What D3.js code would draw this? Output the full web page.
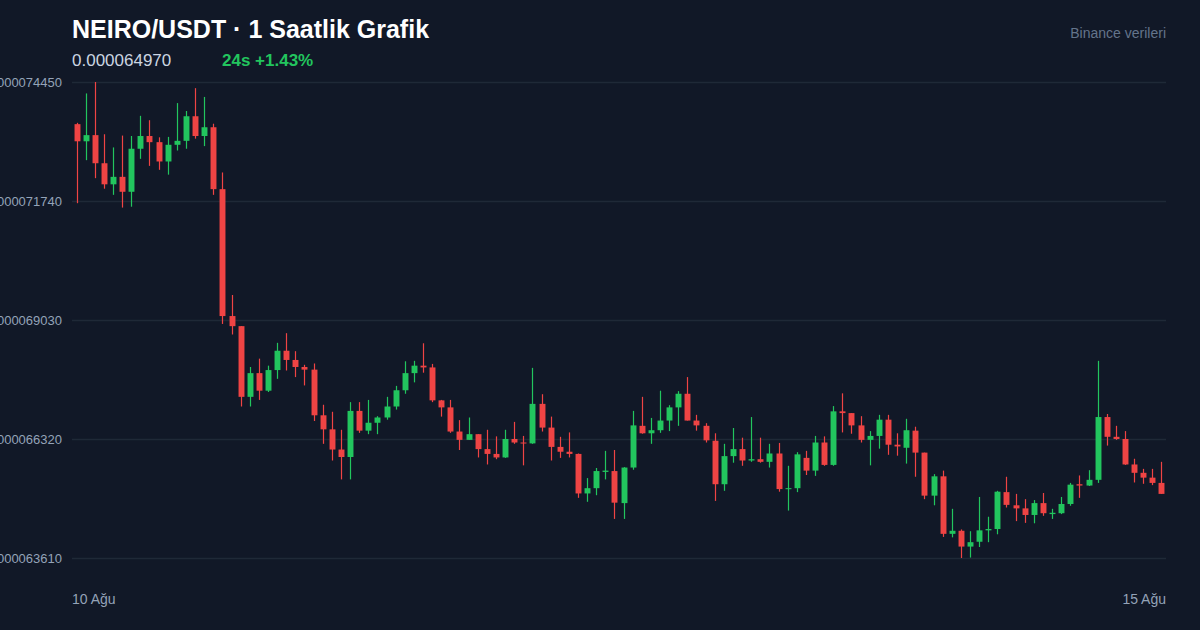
<!DOCTYPE html>
<html><head><meta charset="utf-8">
<script src="https://cdn.jsdelivr.net/npm/d3@7/dist/d3.min.js"></script>
<style>
html,body{margin:0;padding:0;background:#111827;}
svg{display:block;font-family:"Liberation Sans",Arial,Helvetica,sans-serif;}
</style></head>
<body><svg id="chart" width="1200" height="630"></svg>
<script>
// Prices in units of 1e-9 USDT (hourly candles, 10 Ağu -> 15 Ağu)
const PRICE_UNIT = 1e-9;
const open  = [73490,73100,73240,72600,72120,72290,71950,72930,73220,73080,72640,73020,73110,73670,73220,73420,72010,69120,68890,67280,
               67820,67420,67890,68330,68120,67960,67900,66860,66540,66080,65910,66960,66510,66690,66810,67060,67430,67820,67990,67950,
               67200,67040,66490,66300,66430,66090,65980,65900,66320,66240,66220,67120,66580,66140,66030,65980,65080,65200,65570,65590,
               64860,65670,66620,66450,66520,66740,67040,67350,66740,66620,66280,65290,65930,66090,65830,65860,65800,65990,65180,65200,
               65890,65600,66240,65730,66950,66910,66630,66300,66390,66760,66190,66120,66510,66010,65030,65470,64160,64230,63870,63980,
               64240,64270,65110,64810,64740,64590,64860,64610,64630,64840,65290,65260,65390,66820,66370,66320,65740,65550,65440,65320];
const high  = [73520,74190,74450,73260,72960,73230,73220,73680,73580,73190,73200,73970,73790,74310,74110,73500,72390,69600,68890,67960,
               68150,67990,68510,68730,68320,68010,68040,67100,66940,66530,67160,67160,67210,66840,67280,67530,68090,68100,68500,68030,
               67210,67210,66750,66810,66430,66530,66380,66530,66710,66390,67940,67340,66830,66370,66470,65990,65430,65660,66050,66070,
               65680,66960,67280,66800,67420,67090,67410,67730,66870,66680,66450,66210,66570,66350,66820,66350,66210,66230,65710,66020,
               66050,66390,66380,67070,67360,66910,66840,66500,66870,66870,66450,66780,66600,66010,65520,65600,64730,64260,64220,65000,
               64550,65140,65460,65070,64950,64930,65090,64730,65000,65320,65490,65610,68100,66890,66620,66500,65870,65640,65640,65800];
const low   = [71690,72670,72260,72020,71880,71590,71610,72700,72540,72450,72340,72890,72930,73160,72990,71880,68940,68700,67060,67060,
               67210,67390,67690,67880,67730,67540,66730,66210,65830,65400,65400,66460,66430,66430,66760,66990,67350,67610,67830,67160,
               66830,66460,66070,66300,65900,65740,65860,65890,66210,65720,66210,66490,65830,65890,65900,64980,64890,65040,65400,64500,
               64500,65620,66440,66210,66460,66500,66620,66740,66510,66240,64910,65140,65780,65710,65800,65780,65670,65120,64690,65110,
               65500,65480,65710,65710,66470,66440,66240,65720,66100,65960,65940,65760,65460,64950,64810,64090,64080,63610,63620,63860,
               63970,64150,64760,64450,64410,64400,64570,64500,64610,64800,64980,65250,65320,66170,66300,65730,65330,65300,65270,65070];
const close = [73100,73240,72600,72120,72290,71950,72930,73220,73080,72640,73020,73110,73670,73220,73420,72010,69120,68890,67280,67820,
               67420,67890,68330,68120,67960,67900,66860,66540,66080,65910,66960,66510,66690,66810,67060,67430,67820,67990,67950,67200,
               67040,66490,66300,66430,66090,65980,65900,66320,66240,66220,67120,66580,66140,66030,65980,65080,65200,65590,65600,64870,
               65670,66630,66450,66520,66740,67040,67350,66740,66630,66290,65290,65930,66090,65830,65860,65800,65990,65180,65200,65970,
               65600,66240,65730,66950,66910,66630,66300,66390,66760,66190,66150,66520,66010,65030,65470,64160,64230,63870,63970,64240,
               64270,65120,64820,64740,64590,64860,64630,64640,64840,65280,65260,65390,66820,66370,66320,65740,65550,65440,65320,65070];
const xTickLabels = ["10 Ağu", "15 Ağu"];
const titleText = "NEIRO/USDT · 1 Saatlik Grafik";
const lastPriceText = "0.000064970";
const changeText = "24s +1.43%";
const sourceText = "Binance verileri";

const W = 1200, H = 630;
const M = {left: 72, right: 1166, top: 82, bottom: 558};
const svg = d3.select("#chart");
svg.append("rect").attr("width", W).attr("height", H).attr("fill", "#111827");

const n = open.length;
const candles = d3.range(n).map(i => ({i, o: open[i]*PRICE_UNIT, h: high[i]*PRICE_UNIT, l: low[i]*PRICE_UNIT, c: close[i]*PRICE_UNIT}));

const x = d3.scalePoint().domain(d3.range(n)).range([M.left, M.right]).padding(0.5);
const step = x.step();
const bodyW = Math.max(1, step * 0.65);

const yMin = d3.min(candles, d => d.l), yMax = d3.max(candles, d => d.h);
const y = d3.scaleLinear().domain([yMin, yMax]).range([M.bottom, M.top]);
const yTicks = d3.range(5).map(k => yMin + k * (yMax - yMin) / 4);

// grid + y labels
const yAxis = d3.axisLeft(y).tickValues(yTicks).tickSize(-(M.right - M.left)).tickPadding(10)
  .tickFormat(v => v.toFixed(9));
const gy = svg.append("g").attr("transform", `translate(${M.left},0)`).call(yAxis);
gy.select(".domain").remove();
gy.selectAll(".tick line").attr("stroke", "#1f2937").attr("stroke-width", 1.5);
gy.selectAll(".tick text").attr("fill", "#94a3b8").attr("font-size", 13)
  .attr("font-family", "'Liberation Sans',Arial,sans-serif");

// candles
const up = "#22c55e", down = "#ef4444";
const g = svg.append("g");
const cg = g.selectAll("g.c").data(candles).join("g").attr("class", "c");
cg.append("line")
  .attr("x1", d => Math.round(x(d.i)) + 0.5).attr("x2", d => Math.round(x(d.i)) + 0.5)
  .attr("y1", d => y(d.h)).attr("y2", d => y(d.l))
  .attr("stroke", d => d.c >= d.o ? up : down).attr("stroke-width", 1.2);
cg.append("rect")
  .attr("x", d => Math.round(x(d.i)) + 0.5 - bodyW / 2)
  .attr("width", bodyW)
  .attr("y", d => y(Math.max(d.o, d.c)))
  .attr("height", d => Math.max(1, Math.abs(y(d.o) - y(d.c))))
  .attr("fill", d => d.c >= d.o ? up : down);

// x labels
svg.append("text").attr("x", M.left).attr("y", 604).attr("fill", "#94a3b8").attr("font-size", 14)
  .text(xTickLabels[0]);
svg.append("text").attr("x", M.right).attr("y", 604).attr("text-anchor", "end").attr("fill", "#94a3b8").attr("font-size", 14)
  .text(xTickLabels[1]);

// header
svg.append("text").attr("x", 72).attr("y", 38).attr("fill", "#ffffff").attr("font-size", 25).attr("font-weight", 700)
  .text(titleText);
svg.append("text").attr("x", 72).attr("y", 66).attr("fill", "#cbd5e1").attr("font-size", 17)
  .text(lastPriceText);
svg.append("text").attr("x", 222).attr("y", 66).attr("fill", "#22c55e").attr("font-size", 17).attr("font-weight", 700)
  .text(changeText);
svg.append("text").attr("x", 1166).attr("y", 38).attr("text-anchor", "end").attr("fill", "#64748b").attr("font-size", 14)
  .text(sourceText);
</script></body></html>
